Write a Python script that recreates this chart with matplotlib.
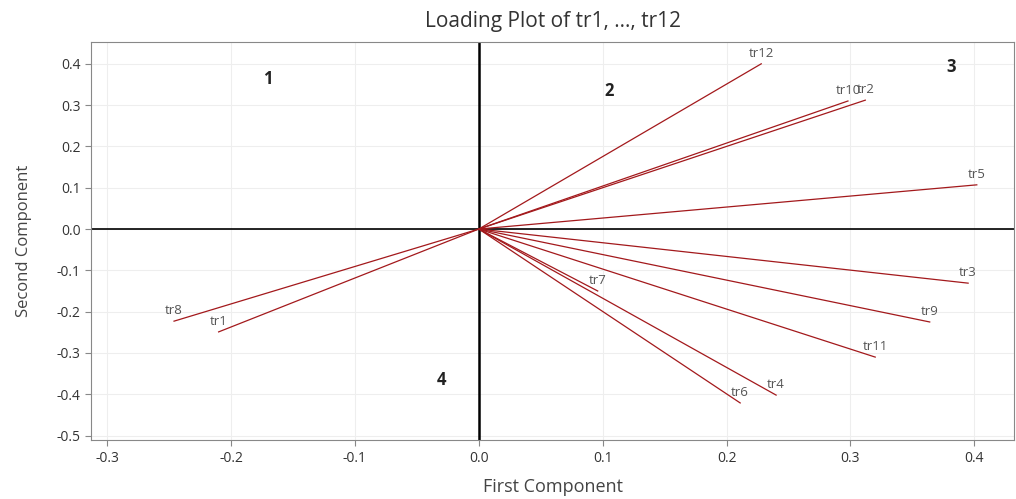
import matplotlib.pyplot as plt

# loadings
labels = ['tr1', 'tr2', 'tr3', 'tr4', 'tr5', 'tr6', 'tr7', 'tr8', 'tr9', 'tr10', 'tr11', 'tr12']
pc1 = [-0.210, 0.312, 0.395, 0.240, 0.402, 0.211, 0.096, -0.246, 0.364, 0.298, 0.320, 0.228]
pc2 = [-0.249, 0.312, -0.131, -0.402, 0.107, -0.421, -0.150, -0.223, -0.225, 0.310, -0.310, 0.400]

quad_names = ['1', '2', '3', '4']
quad_x = [-0.170, 0.105, 0.381, -0.030]
quad_y = [0.363, 0.334, 0.392, -0.366]

plt.rcParams['font.family'] = ['Open Sans', 'DejaVu Sans']

fig = plt.figure(figsize=(10.16, 4.99), dpi=100)
ax = fig.add_axes([0.0896, 0.118, 0.9084, 0.798])

ax.axhline(0, color='black', linewidth=1.2, zorder=2)
ax.axvline(0, color='black', linewidth=1.8, zorder=2)

for x, y, lab in zip(pc1, pc2, labels):
    ax.plot([0, x], [0, y], color='#a3191c', linewidth=0.9, zorder=3)
    ax.annotate(lab, (x, y), xytext=(0, 3), textcoords='offset points',
                ha='center', va='bottom', fontsize=9.5, color='#555555')

for x, y, q in zip(quad_x, quad_y, quad_names):
    ax.text(x, y, q, fontsize=12, fontweight='bold', color='#222222',
            ha='center', va='center')

ax.set_xlim(-0.313, 0.432)
ax.set_ylim(-0.511, 0.453)
ax.set_xticks([-0.3, -0.2, -0.1, 0.0, 0.1, 0.2, 0.3, 0.4])
ax.set_yticks([-0.5, -0.4, -0.3, -0.2, -0.1, 0.0, 0.1, 0.2, 0.3, 0.4])
ax.xaxis.set_major_formatter(plt.FormatStrFormatter('%.1f'))
ax.yaxis.set_major_formatter(plt.FormatStrFormatter('%.1f'))
ax.tick_params(labelsize=10, colors='#333333', length=4, color='#888888')
ax.grid(True, color='#eeeeee', linewidth=0.8, zorder=0)
ax.set_axisbelow(True)
for s in ax.spines.values():
    s.set_color('#888888')

ax.set_xlabel('First Component', fontsize=13, color='#444444', labelpad=9)
ax.set_ylabel('Second Component', fontsize=12, color='#444444', labelpad=18)
ax.set_title('Loading Plot of tr1, ..., tr12', fontsize=15, color='#333333', pad=11)

plt.savefig('out.png', dpi=100)
